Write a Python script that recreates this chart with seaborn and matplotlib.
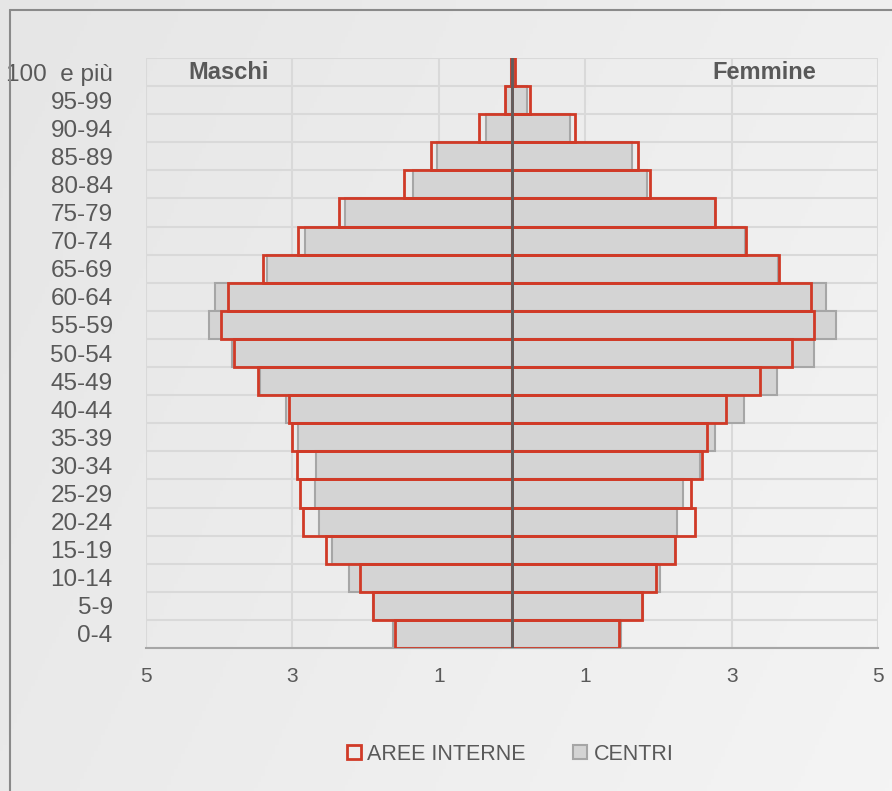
import numpy as np
import pandas as pd
import matplotlib
matplotlib.use("Agg")
import matplotlib.pyplot as plt
from matplotlib.patches import Patch
from matplotlib.lines import Line2D
from matplotlib.ticker import FixedLocator, FuncFormatter
import seaborn as sns

# age classes, top to bottom
ages = ["100  e più", "95-99", "90-94", "85-89", "80-84", "75-79", "70-74",
        "65-69", "60-64", "55-59", "50-54", "45-49", "40-44", "35-39",
        "30-34", "25-29", "20-24", "15-19", "10-14", "5-9", "0-4"]

# percent of population, AREE INTERNE
aree_m = [0.02, 0.09, 0.45, 1.10, 1.47, 2.37, 2.92, 3.40, 3.88, 3.98, 3.80,
          3.47, 3.05, 3.00, 2.94, 2.89, 2.86, 2.54, 2.08, 1.90, 1.60]
aree_f = [0.04, 0.24, 0.86, 1.72, 1.88, 2.78, 3.19, 3.65, 4.08, 4.12, 3.82,
          3.39, 2.92, 2.66, 2.60, 2.44, 2.50, 2.23, 1.97, 1.78, 1.46]

# percent of population, CENTRI
centri_m = [0.01, 0.08, 0.36, 1.03, 1.35, 2.28, 2.83, 3.35, 4.06, 4.14, 3.82,
            3.44, 3.09, 2.93, 2.68, 2.69, 2.63, 2.46, 2.23, 1.90, 1.62]
centri_f = [0.03, 0.21, 0.79, 1.64, 1.84, 2.77, 3.18, 3.64, 4.29, 4.42, 4.12,
            3.62, 3.17, 2.77, 2.57, 2.33, 2.26, 2.22, 2.02, 1.79, 1.49]

x_ticks = [-5, -3, -1, 1, 3, 5]

RED = "#d03a27"
GREY_FILL = "#d4d4d4"
GREY_EDGE = "#a6a6a6"
TXT = "#595959"
GRID = "#d9d9d9"

sns.set_style("white")
plt.rcParams["font.family"] = ["Liberation Sans", "DejaVu Sans"]

df = pd.DataFrame({"age": ages,
                   "aree_m": -np.array(aree_m), "aree_f": aree_f,
                   "centri_m": -np.array(centri_m), "centri_f": centri_f})

fig = plt.figure(figsize=(8.92, 7.91), dpi=100)

# soft gradient background
bg = fig.add_axes([0, 0, 1, 1], zorder=-10)
grad = np.linspace(0, 1, 256)
gx, gy = np.meshgrid(grad, grad)
bg.imshow(0.7 * gx + 0.3 * gy, cmap=matplotlib.colors.LinearSegmentedColormap.from_list(
    "bg", ["#e6e6e6", "#f4f4f4"]), aspect="auto", extent=(0, 1, 0, 1))
bg.axis("off")

# outer frame (top and left only visible)
fig.add_artist(Line2D([10 / 892, 1], [1 - 10 / 791] * 2, color="#8a8a8a", lw=1.5))
fig.add_artist(Line2D([10 / 892] * 2, [0, 1 - 10 / 791], color="#8a8a8a", lw=1.5))

ax = fig.add_axes([146 / 892, 1 - 648 / 791, 732 / 892, 590 / 791])
ax.set_facecolor("none")

for col in ["centri_m", "centri_f"]:
    sns.barplot(data=df, x=col, y="age", order=ages, orient="h", ax=ax,
                color=GREY_FILL, edgecolor=GREY_EDGE, linewidth=1.5,
                width=1.0, saturation=1, errorbar=None, zorder=2)
for col in ["aree_m", "aree_f"]:
    sns.barplot(data=df, x=col, y="age", order=ages, orient="h", ax=ax,
                color=RED, fill=False, linewidth=2,
                width=1.0, saturation=1, errorbar=None, zorder=3)

ax.axvline(0, color="#5f5f5f", lw=2, zorder=4)

ax.set_xlim(-5, 5)
ax.set_ylim(len(ages) - 0.5, -0.5)
ax.set_xlabel("")
ax.set_ylabel("")

ax.xaxis.set_major_locator(FixedLocator(x_ticks))
ax.xaxis.set_major_formatter(FuncFormatter(lambda v, p: f"{abs(v):.0f}"))
ax.yaxis.set_minor_locator(FixedLocator(np.arange(-0.5, len(ages), 1.0)))

ax.grid(True, axis="x", which="major", color=GRID, lw=1.5, zorder=0)
ax.grid(True, axis="y", which="minor", color=GRID, lw=1.5, zorder=0)
ax.grid(False, axis="y", which="major")
ax.set_axisbelow(True)

for s in ["top", "left", "right"]:
    ax.spines[s].set_visible(False)
ax.spines["bottom"].set_color(GREY_EDGE)
ax.spines["bottom"].set_linewidth(1.5)

ax.tick_params(axis="x", which="major", length=5, width=1.5, color=GREY_EDGE,
               labelsize=15, labelcolor=TXT, pad=9)
ax.tick_params(axis="y", which="both", length=0, labelsize=17.5, labelcolor=TXT, pad=24)

ax.text(-3.87, 0, "Maschi", ha="center", va="center", fontsize=17,
        fontweight="bold", color=TXT, zorder=5)
ax.text(3.44, 0, "Femmine", ha="center", va="center", fontsize=17,
        fontweight="bold", color=TXT, zorder=5)

handles = [Patch(facecolor="none", edgecolor=RED, lw=2, label="AREE INTERNE"),
           Patch(facecolor=GREY_FILL, edgecolor=GREY_EDGE, lw=1.5, label="CENTRI")]
fig.legend(handles=handles, loc="center", bbox_to_anchor=(0.572, 1 - 754 / 791),
           ncol=2, frameon=False, fontsize=15.5, labelcolor=TXT,
           handlelength=0.65, handleheight=0.65, handletextpad=0.3,
           columnspacing=2.2)

fig.savefig("out.png", dpi=100)
